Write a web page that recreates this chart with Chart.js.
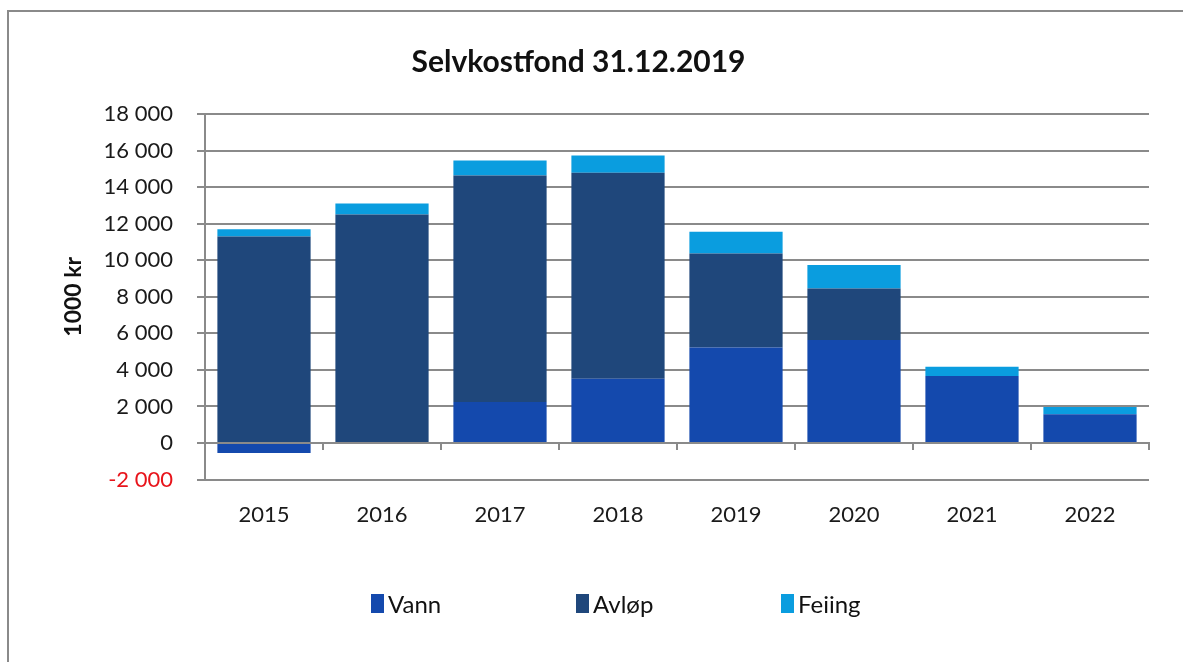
<!DOCTYPE html>
<html>
<head>
<meta charset="utf-8">
<script src="https://cdn.jsdelivr.net/npm/chart.js@4"></script>
<style>
  html, body { margin: 0; padding: 0; width: 1183px; height: 662px; overflow: hidden; background: #fff; }
  #frame { position: absolute; left: 7px; top: 10px; width: 1300px; height: 800px; border: 2px solid #8a8a8a; }
  #wrap { position: absolute; left: 8px; top: 0; width: 1183px; height: 662px; }
  #legend { position: absolute; left: 371px; top: 589px; display: flex; font-family: Lato, sans-serif; font-size: 24px; color: #111; }
  .item { display: flex; align-items: center; width: 205px; }
  .box { width: 13px; height: 19px; margin-right: 4px; }
</style>
</head>
<body>
<div id="frame"></div>
<div id="wrap"><canvas id="chart" width="1183" height="662"></canvas></div>
<div id="legend"></div>
<script>
const years = ["2015", "2016", "2017", "2018", "2019", "2020", "2021", "2022"];
const vann = [-550, 0, 2250, 3520, 5220, 5630, 3670, 1570];
const avlop = [11300, 12500, 12380, 11260, 5150, 2830, 0, 0];
const feiing = [400, 600, 820, 950, 1190, 1280, 510, 400];

const seriesNames = ["Vann", "Avløp", "Feiing"];
const seriesColors = ["#1449ad", "#1f477b", "#0a9ddf"];

const gridGrey = "#8a8a8a";

function fmt(v) {
  const s = String(Math.abs(v)).replace(/\B(?=(\d{3})+(?!\d))/g, " ");
  return v < 0 ? "-" + s : s;
}

const datasets = [vann, avlop, feiing].map((d, i) => ({
  label: seriesNames[i],
  data: d,
  backgroundColor: seriesColors[i],
  borderWidth: 0,
  categoryPercentage: 0.79,
  barPercentage: 1
}));

new Chart(document.getElementById("chart"), {
  type: "bar",
  data: { labels: years, datasets },
  options: {
    responsive: false,
    animation: false,
    layout: { padding: { left: 0, right: 42, top: 0, bottom: 112 } },
    plugins: {
      legend: { display: false },
      tooltip: { enabled: false },
      title: {
        display: true,
        text: "Selvkostfond 31.12.2019",
        color: "#111",
        font: { family: "Lato", size: 30, weight: "bold" },
        padding: { top: 44, bottom: 34 }
      }
    },
    scales: {
      x: {
        stacked: true,
        grid: { display: false, drawTicks: false },
        border: { display: false },
        ticks: { color: "#1a1a1a", font: { family: "Lato", size: 22 }, padding: 22 }
      },
      x2: {
        type: "category",
        position: { y: 0 },
        offset: true,
        grid: { offset: true, drawOnChartArea: false, tickLength: 6, color: gridGrey, lineWidth: 2 },
        border: { color: gridGrey, width: 2 },
        ticks: { display: false },
        afterFit: s => { s.height = 0; }
      },
      y: {
        stacked: true,
        min: -2000,
        max: 18000,
        grid: { color: gridGrey, lineWidth: 2, tickLength: 8 },
        border: { color: gridGrey, width: 2 },
        ticks: {
          stepSize: 2000,
          padding: 24,
          font: { family: "Lato", size: 22 },
          color: c => c.tick.value < 0 ? "#e8141b" : "#1a1a1a",
          callback: v => fmt(v)
        },
        title: {
          display: true,
          text: "1000 kr",
          color: "#111",
          font: { family: "Lato", size: 23, weight: "bold" },
          padding: { top: 52, bottom: 0 }
        },
        afterFit: s => { s.width = 197; }
      }
    }
  }
});

// legend built from the series arrays
const legend = document.getElementById("legend");
seriesNames.forEach((name, i) => {
  const item = document.createElement("div");
  item.className = "item";
  item.innerHTML = `<span class="box" style="background:${seriesColors[i]}"></span><span>${name}</span>`;
  legend.appendChild(item);
});
</script>
</body>
</html>
